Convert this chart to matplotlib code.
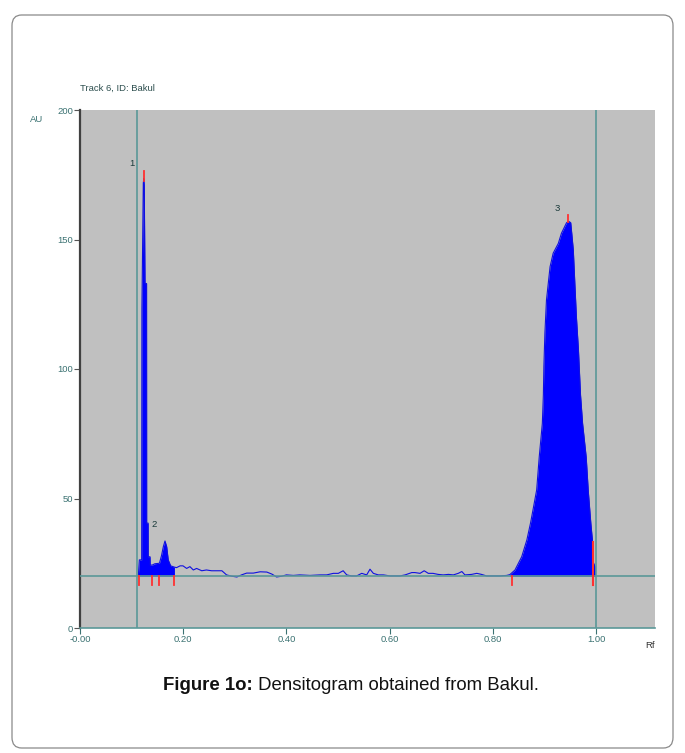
import matplotlib
matplotlib.use("Agg")
import matplotlib.pyplot as plt
from matplotlib.patches import FancyBboxPatch
import numpy as np

# ---- data ----
rf = [0.113, 0.115, 0.1195, 0.1200, 0.1227, 0.1235, 0.1245, 0.1260, 0.1290, 0.1292,
      0.1320, 0.1322, 0.1357, 0.1360, 0.1400, 0.1450, 0.1540, 0.1580, 0.1615, 0.1647,
      0.1680, 0.1710, 0.1757, 0.1830, 0.1870, 0.1940, 0.1996, 0.2067, 0.2130, 0.2196,
      0.2260, 0.2360, 0.2450, 0.2550, 0.2650, 0.2750, 0.2840, 0.2940, 0.3040, 0.3130,
      0.3230, 0.3360, 0.3490, 0.3620, 0.3720, 0.3810, 0.3910, 0.4000, 0.4134, 0.4260,
      0.4457, 0.4650, 0.4780, 0.4910, 0.5006, 0.5100, 0.5170, 0.5260, 0.5360, 0.5460,
      0.5556, 0.5620, 0.5685, 0.5780, 0.5880, 0.6010, 0.6105, 0.6200, 0.6300, 0.6430,
      0.6490, 0.6590, 0.6670, 0.6750, 0.6840, 0.6940, 0.7040, 0.7140, 0.7235, 0.7330,
      0.7400, 0.7460, 0.7590, 0.7690, 0.7780, 0.7880, 0.8010, 0.8140, 0.8270, 0.8330,
      0.8430, 0.8560, 0.8660, 0.8730, 0.8790, 0.8850, 0.8900, 0.8960, 0.8980, 0.8990,
      0.9010, 0.9040, 0.9110, 0.9170, 0.9270, 0.9330, 0.9430, 0.9470, 0.9510, 0.9530,
      0.9560, 0.9590, 0.9620, 0.9660, 0.9700, 0.9740, 0.9810, 0.9850, 0.9900, 0.9930,
      0.9935, 0.9980, 0.9990]
au = [20.0, 26.3, 26.3, 123.5, 171.7, 173.5, 171.0, 133.0, 133.0, 40.5,
      40.5, 27.5, 27.5, 24.3, 24.3, 24.8, 25.0, 28.0, 31.4, 33.6,
      31.4, 26.3, 24.0, 23.5, 23.3, 24.0, 24.0, 23.0, 23.7, 22.4,
      23.0, 22.1, 22.4, 22.1, 22.1, 22.1, 20.5, 20.0, 19.7, 20.5,
      21.2, 21.2, 21.7, 21.6, 20.8, 19.7, 20.0, 20.5, 20.3, 20.5,
      20.3, 20.5, 20.5, 21.1, 21.1, 22.1, 20.5, 20.1, 20.1, 21.1,
      20.5, 22.7, 21.1, 20.5, 20.5, 20.1, 20.1, 20.1, 20.5, 21.4,
      21.4, 21.1, 22.1, 21.1, 21.1, 20.7, 20.5, 20.7, 20.5, 21.1,
      21.8, 20.5, 20.7, 21.1, 20.7, 20.1, 20.1, 20.1, 20.3, 20.6,
      22.4, 27.5, 34.0, 40.4, 46.8, 53.3, 66.1, 79.0, 90.0, 101.0,
      114.0, 126.6, 139.5, 144.7, 148.5, 152.4, 156.5, 157.0, 156.5, 152.4,
      146.0, 133.0, 120.2, 107.3, 90.0, 79.0, 66.0, 53.0, 40.4, 34.0,
      26.0, 23.7, 20.0]

baseline = 20.0
start_line = 0.11
end_line = 1.00
peak_bounds = [0.115, 0.140, 0.154, 0.183, 0.837]
end_bound = 0.994
peak_tops = [(0.1235, 172.5, 176.5), (0.946, 156.8, 159.5)]
peak_labels = [("1", 0.101, 179.5), ("2", 0.143, 39.8), ("3", 0.924, 162.0)]
fill_ranges = [(0.113, 0.183), (0.833, 0.999)]

xticks = [0.0, 0.2, 0.4, 0.6, 0.8, 1.0]
xticklabels = ["-0.00", "0.20", "0.40", "0.60", "0.80", "1.00"]
yticks = [0, 50, 100, 150, 200]

teal = "#5b9898"
txtc = "#3b7272"
small = 6.8

plt.rcParams['font.family'] = ['Liberation Sans', 'DejaVu Sans']

W, H = 685, 753
fig = plt.figure(figsize=(W / 100, H / 100), dpi=100)

# border
border = FancyBboxPatch((12 / W, 1 - 748 / H), 661 / W, 733 / H,
                        boxstyle="round,pad=0,rounding_size=0.014",
                        transform=fig.transFigure, fill=False,
                        edgecolor="#8a8a8a", linewidth=0.9)
fig.patches.append(border)

ax = fig.add_axes([80 / W, 1 - 628 / H, 575 / W, 518 / H])
ax.set_facecolor("#c0c0c0")
ax.set_xlim(0, 575 / 516)
ax.set_ylim(0, 200)

x = np.array(rf)
y = np.array(au)
for a, b in fill_ranges:
    m = (x >= a) & (x <= b)
    ax.fill_between(x[m], baseline, y[m], color="#0000ff", linewidth=0, zorder=2)
ax.plot(x, y, color="#1010e0", linewidth=0.8, zorder=3)

ax.axhline(baseline, color=teal, linewidth=1.2, zorder=4)
ax.axvline(start_line, color=teal, linewidth=1.2, zorder=4)
ax.axvline(end_line, color=teal, linewidth=1.2, zorder=4)

for b in peak_bounds:
    ax.plot([b, b], [16.6, 20.0], color="#ff3030", linewidth=1.3, zorder=5)
ax.plot([end_bound, end_bound], [16.6, 33.3], color="#ff3030", linewidth=1.5, zorder=5)
for px, y0, y1 in peak_tops:
    ax.plot([px, px], [y0, y1], color="#ff3030", linewidth=1.3, zorder=5)

for s, lx, ly in peak_labels:
    ax.text(lx, ly, s, fontsize=small, color="#1a3a3a", ha="center", va="center")

for sp in ["top", "right"]:
    ax.spines[sp].set_visible(False)
ax.spines["left"].set_color("#404040")
ax.spines["left"].set_linewidth(1.6)
ax.spines["bottom"].set_color(teal)
ax.spines["bottom"].set_linewidth(1.2)

ax.set_xticks(xticks)
ax.set_xticklabels(xticklabels)
ax.set_yticks(yticks)
ax.tick_params(axis="both", labelsize=small, colors=txtc, length=4, width=0.8, pad=1)
ax.tick_params(axis="y", colors="#555555", labelcolor=txtc)

fig.text(37 / W, 1 - 119 / H, "AU", fontsize=small, color=txtc, ha="center", va="center")
fig.text(650 / W, 1 - 646 / H, "Rf", fontsize=small, color="#333333", ha="center", va="center")
fig.text(80 / W, 1 - 88 / H, "Track 6, ID: Bakul", fontsize=small, color="#2d4f4f", ha="left", va="center")

# caption with bold part
cap_y = 1 - 685 / H
fs = 13.4
t1 = fig.text(0, cap_y, "Figure 1o:", fontsize=fs, fontweight="bold", ha="left", va="center", color="#111111")
t2 = fig.text(0, cap_y, " Densitogram obtained from Bakul.", fontsize=fs, ha="left", va="center", color="#111111")
fig.canvas.draw()
r = fig.canvas.get_renderer()
w1 = t1.get_window_extent(r).width / W
w2 = t2.get_window_extent(r).width / W
x0 = 351 / W - (w1 + w2) / 2
t1.set_x(x0)
t2.set_x(x0 + w1)

fig.savefig("out.png", dpi=100)
